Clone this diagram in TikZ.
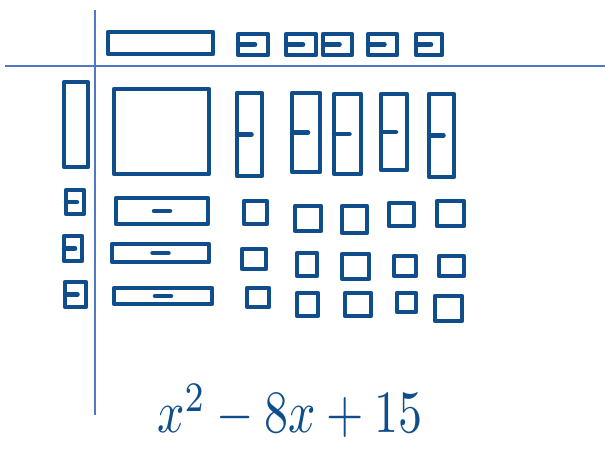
\documentclass[tikz,border=0pt]{standalone}
\definecolor{ink}{RGB}{16,78,139}
\definecolor{axis}{RGB}{79,122,194}
\newcommand\negtile[4]{%
  \draw[tile] (#1,#2) rectangle (#3,#4);
  \draw[tile] (#1,{(#2+#4)/2}) -- ({(#1+#3)/2+2},{(#2+#4)/2});}
\newcommand\negbar[4]{%
  \draw[tile] (#1,#2) rectangle (#3,#4);
  \draw[tile] ({(#1+#3)/2-8},{(#2+#4)/2}) -- ({(#1+#3)/2+8},{(#2+#4)/2});}
\newcommand\postile[4]{\draw[tile] (#1,#2) rectangle (#3,#4);}
\begin{document}
\begin{tikzpicture}[x=1pt,y=-1pt,
  tile/.style={draw=ink,line width=4.5pt,line join=round,line cap=round},
  ax/.style={draw=axis,line width=1.5pt},
  expr/.style={text=ink,inner sep=0pt}]
\useasboundingbox (0,0) rectangle (605,448);
% axes
\draw[ax] (95,10) -- (95,415);
\draw[ax] (5,66) -- (605,66);
% top factor: x - 5
\postile{108}{32}{213}{54}
\negtile{238}{34}{268}{55}
\negtile{286}{34}{316}{55}
\negtile{323}{34}{352}{55}
\negtile{368}{34}{397}{55}
\negtile{416}{34}{442}{55}
% left factor: x - 3
\postile{64}{82}{88}{167}
\negtile{66}{190}{84}{214}
\negtile{64}{236}{82}{261}
\negtile{65}{282}{86}{307}
% x^2
\postile{114}{89}{209}{174}
% -x vertical tiles
\negtile{237}{93}{262}{176}
\negtile{292}{93}{320}{172}
\negtile{334}{94}{361}{174}
\negtile{381}{94}{407}{170}
\negtile{429}{94}{454}{177}
% -x horizontal tiles
\negbar{116}{198}{208}{224}
\negbar{112}{244}{209}{262}
\negbar{114}{288}{212}{304}
% +1 units
\postile{244}{201}{267}{224}
\postile{295}{206}{321}{231}
\postile{342}{206}{367}{233}
\postile{389}{203}{414}{226}
\postile{437}{201}{464}{226}
\postile{242}{249}{266}{269}
\postile{297}{253}{317}{276}
\postile{342}{254}{369}{279}
\postile{394}{256}{416}{276}
\postile{439}{256}{464}{276}
\postile{247}{288}{269}{307}
\postile{297}{293}{318}{316}
\postile{345}{293}{371}{316}
\postile{397}{293}{416}{312}
\postile{435}{296}{462}{321}
% expression
\node[expr] (eq) at (290,411) {\scalebox{4.8}[6.0]{$x^2-8x+15$}};
\end{tikzpicture}
\end{document}
